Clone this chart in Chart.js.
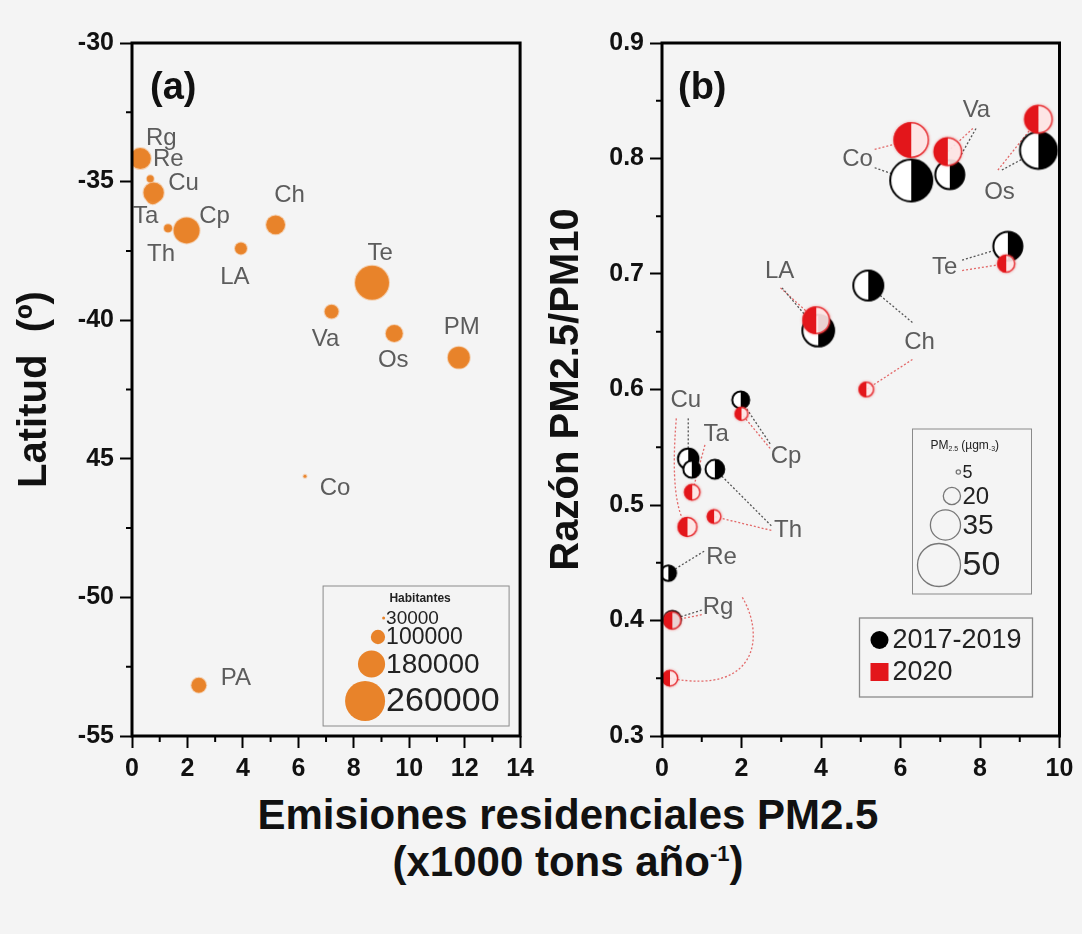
<!DOCTYPE html>
<html>
<head>
<meta charset="utf-8">
<script src="https://cdn.jsdelivr.net/npm/chart.js@4.4.1/dist/chart.umd.min.js"></script>
<style>
body{margin:0;background:#f4f4f4;width:1082px;height:934px;position:relative;overflow:hidden;font-family:"Liberation Sans",Arial,sans-serif}
#cA{position:absolute;left:0;top:0}
#cB{position:absolute;left:540px;top:0}
#xt{position:absolute;left:168px;width:800px;top:791px;text-align:center;font-weight:bold;font-size:42px;line-height:47px;color:#111;white-space:nowrap}
#xt sup{font-size:22px;line-height:0}
</style>
</head>
<body>
<canvas id="cA" width="540" height="790"></canvas>
<canvas id="cB" width="542" height="790"></canvas>
<div id="xt">Emisiones residenciales PM2.5<br>(x1000 tons año<sup>-1</sup>)</div>
<script>
// ---- panel (a): latitud vs emisiones, tamaño = habitantes
const ciudadesA = ['Rg','Ta','Cu','Re','Th','Cp','LA','Ch','Te','Va','Os','PM','Co','PA'];
const emisionesA = [0.30,0.75,0.78,0.66,1.30,1.97,3.93,5.18,8.66,7.20,9.46,11.79,6.24,2.41];
const latitudA = [-34.17,-35.6,-35.4,-34.9,-36.68,-36.76,-37.41,-36.56,-38.65,-39.69,-40.48,-41.35,-45.63,-53.17];
const habitantesA = [142000,86000,138000,55000,61000,173000,86000,129000,223000,98000,117000,148000,30000,104000];
const leyendaHab = [30000,100000,180000,260000];

// ---- panel (b): razon PM2.5/PM10, tamaño = PM2.5
const ciudadesB = ['Co','Va','Os','Te','LA','Ch','Cp','Cu','Ta','Th','Re','Rg'];
const emis1719 = [6.27,7.24,9.47,8.70,3.93,5.19,1.98,0.66,0.75,1.33,0.16,0.26];
const razon1719 = [0.781,0.786,0.807,0.724,0.651,0.690,0.591,0.540,0.531,0.531,0.441,0.401];
const pm1719 = [50,35,44,35,38,36,21,25,21,23,19,21];
const emis2020 = [6.27,7.19,9.47,8.66,3.88,5.14,2.00,0.64,0.76,1.31,0.20,0.26];
const razon2020 = [0.816,0.806,0.834,0.709,0.660,0.600,0.579,0.481,0.511,0.490,0.350,0.400];
const pm2020 = [41,33,33,21,32,18,16,23,19,17,19,21];
const leyendaPM = [5,20,35,50];

const FUENTE = '"Liberation Sans", Arial, sans-serif';
Chart.defaults.font.family = FUENTE;

const radioHab = h => 1.5 + (h - 30000) / 12430;
const radioPM = v => 0.43 * v;
const NARANJA = '#e8832a';
const ROJO = '#e3161b';

// label offsets (px) for panel a
const offA = {Rg:[21,-20],Re:[18,-19],Cu:[30,-9],Ta:[-7,18],Th:[-7,26],Cp:[28,-14],LA:[-6,29],
  Ch:[14,-29],Te:[8,-29],Va:[-6,28],Os:[-1,27],PM:[3,-30],Co:[30,12],PA:[37,-7]};

// label positions + leader lines for panel b (data units)
const anotB = [
  {t:'Co', p:[4.92,0.799], l:[[[5.35,0.808],'r',0],[[5.35,0.792],'n',0]]},
  {t:'Va', p:[7.91,0.842], l:[[[7.82,0.826],'r',1],[[7.9,0.826],'n',1]]},
  {t:'Os', p:[8.49,0.771], l:[[[8.45,0.79],'r',2],[[8.55,0.79],'n',2]]},
  {t:'Te', p:[7.11,0.706], l:[[[7.55,0.712],'n',3],[[7.55,0.703],'r',3]]},
  {t:'LA', p:[2.96,0.702], l:[[[2.98,0.688],'r',4],[[3.02,0.688],'n',4]]},
  {t:'Ch', p:[6.48,0.641], l:[[[6.3,0.658],'n',5],[[6.3,0.626],'r',5]]},
  {t:'Cu', p:[0.60,0.591], l:[[[0.66,0.575],'n',7],[[0.36,0.575],'r',7,[0.18,0.50]]]},
  {t:'Ta', p:[1.36,0.561], l:[[[1.08,0.552],'r',8]]},
  {t:'Cp', p:[3.12,0.542], l:[[[2.72,0.553],'n',6],[[2.72,0.549],'r',6]]},
  {t:'Th', p:[3.17,0.478], l:[[[2.75,0.482],'n',9],[[2.75,0.478],'r',9]]},
  {t:'Re', p:[1.50,0.455], l:[[[1.06,0.46],'n',10],[[2.02,0.42],'r',10,[2.55,0.39],[2.5,0.335]]]},
  {t:'Rg', p:[1.41,0.411], l:[[[1.0,0.409],'n',11],[[1.0,0.405],'r',11]]}
];

function marcador(r, tipo) {
  const s = 2 * Math.ceil(r + 3);
  const c = document.createElement('canvas');
  c.width = s; c.height = s;
  const g = c.getContext('2d');
  const m = s / 2;
  if (tipo === 'n') {
    g.fillStyle = '#fff';
    g.beginPath(); g.arc(m, m, r, 0, 2 * Math.PI); g.fill();
    g.fillStyle = '#000';
    g.beginPath(); g.moveTo(m, m); g.arc(m, m, r, -Math.PI / 2, Math.PI / 2); g.closePath(); g.fill();
    g.strokeStyle = '#000'; g.lineWidth = 2;
    g.beginPath(); g.arc(m, m, r - 0.5, 0, 2 * Math.PI); g.stroke();
  } else {
    g.shadowColor = 'rgba(230,30,30,0.6)'; g.shadowBlur = 3;
    g.fillStyle = 'rgba(255,244,244,0.85)';
    g.beginPath(); g.arc(m, m, r, 0, 2 * Math.PI); g.fill();
    g.shadowBlur = 0;
    g.fillStyle = ROJO;
    g.beginPath(); g.moveTo(m, m); g.arc(m, m, r, Math.PI / 2, 3 * Math.PI / 2); g.closePath(); g.fill();
    g.strokeStyle = 'rgba(227,22,27,0.85)'; g.lineWidth = 1.5;
    g.beginPath(); g.arc(m, m, r - 0.5, 0, 2 * Math.PI); g.stroke();
  }
  return c;
}

function marco(chart, mayorX, mayorY) {
  const {ctx, chartArea: ca, scales: {x, y}} = chart;
  ctx.save();
  ctx.strokeStyle = '#000';
  ctx.lineWidth = 2;
  ctx.beginPath();
  x.ticks.forEach(t => {
    if (mayorX(t.value)) return;
    const px = x.getPixelForValue(t.value);
    ctx.moveTo(px, ca.bottom); ctx.lineTo(px, ca.bottom + 6);
  });
  y.ticks.forEach(t => {
    if (mayorY(t.value)) return;
    const py = y.getPixelForValue(t.value);
    ctx.moveTo(ca.left, py); ctx.lineTo(ca.left - 6, py);
  });
  ctx.stroke();
  ctx.lineWidth = 3;
  ctx.strokeRect(ca.left, ca.top, ca.width, ca.height);
  ctx.restore();
}

function ejes(mx, my, xmin, xmax, xstep, ymin, ymax, ystep, etiquetaY, titulo, tpad, ancho) {
  const grid = maj => ({display: true, drawOnChartArea: false, drawTicks: true, tickLength: 12, tickWidth: 2,
    tickColor: c => (c.tick && maj(c.tick.value)) ? '#000' : 'rgba(0,0,0,0)'});
  return {
    x: {type: 'linear', min: xmin, max: xmax, border: {display: false}, grid: grid(mx),
      afterFit: s => { s.height = 54; },
      ticks: {stepSize: xstep, autoSkip: false, maxRotation: 0, padding: 6, color: '#111',
        font: {size: 25, weight: 'bold'}, callback: v => mx(v) ? String(Math.round(v)) : ''}},
    y: {type: 'linear', min: ymin, max: ymax, border: {display: false}, grid: grid(my),
      afterFit: s => { s.width = ancho; },
      title: {display: true, text: titulo, color: '#111', font: {size: 40, weight: 'bold'}, padding: {top: tpad, bottom: 0}},
      ticks: {stepSize: ystep, autoSkip: false, padding: 6, color: '#111',
        font: {size: 25, weight: 'bold'}, callback: v => my(v) ? etiquetaY(v) : ''}}
  };
}

// ---------- chart (a)
const mayorXa = v => Math.round(v) % 2 === 0;
const mayorYa = v => Math.abs(Math.round(v * 2)) % 10 === 0;

const pluginA = {
  id: 'extrasA',
  afterDatasetsDraw(chart) {
    const {ctx, chartArea: ca} = chart;
    const meta = chart.getDatasetMeta(0);
    ctx.save();
    ctx.font = '24px ' + FUENTE;
    ctx.fillStyle = '#5c5c5c';
    ctx.textAlign = 'center';
    ctx.textBaseline = 'middle';
    ciudadesA.forEach((c, i) => {
      const p = meta.data[i];
      const d = offA[c];
      ctx.fillText(c, p.x + d[0], p.y + d[1]);
    });
    // leyenda habitantes
    const bx = ca.right - 197, by = ca.bottom - 150;
    ctx.strokeStyle = '#8a8a8a'; ctx.lineWidth = 1;
    ctx.strokeRect(bx, by, 186, 140);
    ctx.fillStyle = '#222';
    ctx.font = 'bold 12px ' + FUENTE;
    ctx.fillText('Habitantes', bx + 97, by + 13);
    const filas = [[32, 19], [51, 23], [78, 28], [115, 34]];
    ctx.textAlign = 'left';
    leyendaHab.forEach((h, i) => {
      const r = radioHab(h);
      const cy = by + filas[i][0];
      ctx.fillStyle = NARANJA;
      ctx.beginPath(); ctx.arc(bx + 62 - r, cy, r, 0, 2 * Math.PI); ctx.fill();
      ctx.fillStyle = '#222';
      ctx.font = filas[i][1] + 'px ' + FUENTE;
      ctx.fillText(String(h), bx + 63, cy + 1);
    });
    ctx.font = 'bold 38px ' + FUENTE;
    ctx.fillStyle = '#111';
    ctx.fillText('(a)', ca.left + 18, ca.top + 46);
    ctx.restore();
  },
  afterDraw(chart) { marco(chart, mayorXa, mayorYa); }
};

new Chart(document.getElementById('cA'), {
  type: 'scatter',
  data: {
    datasets: [{
      label: 'Habitantes',
      data: emisionesA.map((x, i) => ({x: x, y: latitudA[i]})),
      backgroundColor: NARANJA,
      borderColor: 'rgba(240,150,70,0.35)',
      borderWidth: 2,
      pointRadius: habitantesA.map(radioHab),
      pointHoverRadius: habitantesA.map(radioHab)
    }]
  },
  options: {
    responsive: false, animation: false, devicePixelRatio: 1, events: [],
    layout: {padding: {top: 43, right: 12, left: 0, bottom: 0}},
    plugins: {legend: {display: false}, tooltip: {enabled: false}},
    scales: ejes(mayorXa, mayorYa, 0, 14, 1, -55, -30, 2.5,
      v => Math.round(v) === -45 ? '45' : String(Math.round(v)), 'Latitud  (º)', 11, 132)
  },
  plugins: [pluginA]
});

// ---------- chart (b)
const mayorXb = v => Math.round(v) % 2 === 0;
const mayorYb = v => Math.round(v * 20) % 2 === 0;

const pluginB = {
  id: 'extrasB',
  beforeDatasetsDraw(chart) {
    const {ctx, scales: {x, y}} = chart;
    const metaR = chart.getDatasetMeta(0), metaN = chart.getDatasetMeta(1);
    ctx.save();
    ctx.lineWidth = 1.3;
    ctx.setLineDash([2, 2]);
    anotB.forEach(a => {
      a.l.forEach(l => {
        const p = (l[1] === 'r' ? metaR : metaN).data[l[2]];
        ctx.strokeStyle = l[1] === 'r' ? 'rgba(225,90,90,0.9)' : '#555';
        ctx.beginPath();
        ctx.moveTo(x.getPixelForValue(l[0][0]), y.getPixelForValue(l[0][1]));
        if (l[4]) {
          ctx.bezierCurveTo(x.getPixelForValue(l[3][0]), y.getPixelForValue(l[3][1]),
            x.getPixelForValue(l[4][0]), y.getPixelForValue(l[4][1]), p.x, p.y);
        } else if (l[3]) {
          ctx.quadraticCurveTo(x.getPixelForValue(l[3][0]), y.getPixelForValue(l[3][1]), p.x, p.y);
        } else {
          ctx.lineTo(p.x, p.y);
        }
        ctx.stroke();
      });
    });
    ctx.restore();
  },
  afterDatasetsDraw(chart) {
    const {ctx, chartArea: ca, scales: {x, y}} = chart;
    ctx.save();
    ctx.font = '24px ' + FUENTE;
    ctx.fillStyle = '#5c5c5c';
    ctx.textAlign = 'center';
    ctx.textBaseline = 'middle';
    anotB.forEach(a => ctx.fillText(a.t, x.getPixelForValue(a.p[0]), y.getPixelForValue(a.p[1])));
    // leyenda PM2.5
    const bx = ca.right - 147, by = 429;
    ctx.strokeStyle = '#8a8a8a'; ctx.lineWidth = 1;
    ctx.strokeRect(bx, by, 119, 165);
    ctx.fillStyle = '#222';
    ctx.textAlign = 'left';
    ctx.font = '12px ' + FUENTE;
    let tx = bx + 18;
    ctx.fillText('PM', tx, by + 17); tx += ctx.measureText('PM').width;
    ctx.font = '7px ' + FUENTE; ctx.fillText('2.5', tx, by + 20); tx += ctx.measureText('2.5').width + 3;
    ctx.font = '12px ' + FUENTE; ctx.fillText('(µgm', tx, by + 17); tx += ctx.measureText('(µgm').width;
    ctx.font = '7px ' + FUENTE; ctx.fillText('-3', tx, by + 20); tx += ctx.measureText('-3').width;
    ctx.font = '12px ' + FUENTE; ctx.fillText(')', tx, by + 17);
    const filas = [[43, 18], [67, 24], [96, 28], [136, 34]];
    leyendaPM.forEach((v, i) => {
      const r = radioPM(v);
      const cy = by + filas[i][0];
      ctx.strokeStyle = '#777'; ctx.lineWidth = 1.3;
      ctx.beginPath(); ctx.arc(bx + 48 - r, cy, r, 0, 2 * Math.PI); ctx.stroke();
      ctx.fillStyle = '#222';
      ctx.font = filas[i][1] + 'px ' + FUENTE;
      ctx.fillText(String(v), bx + 50, cy + 1);
    });
    // leyenda series
    const sx = ca.right - 200, sy = 618;
    ctx.strokeStyle = '#8a8a8a';
    ctx.strokeRect(sx, sy, 173, 79);
    ctx.fillStyle = '#000';
    ctx.beginPath(); ctx.arc(sx + 20, sy + 22, 9, 0, 2 * Math.PI); ctx.fill();
    ctx.fillStyle = ROJO;
    ctx.fillRect(sx + 11, sy + 45, 18, 18);
    ctx.fillStyle = '#222';
    ctx.font = '27px ' + FUENTE;
    ctx.fillText('2017-2019', sx + 33, sy + 23);
    ctx.fillText('2020', sx + 33, sy + 55);
    ctx.font = 'bold 38px ' + FUENTE;
    ctx.fillStyle = '#111';
    ctx.fillText('(b)', ca.left + 16, ca.top + 46);
    ctx.restore();
  },
  afterDraw(chart) { marco(chart, mayorXb, mayorYb); }
};

new Chart(document.getElementById('cB'), {
  type: 'scatter',
  data: {
    datasets: [{
      label: '2020',
      data: emis2020.map((x, i) => ({x: x, y: razon2020[i]})),
      pointStyle: pm2020.map(v => marcador(radioPM(v), 'r')),
      pointRadius: pm2020.map(radioPM)
    }, {
      label: '2017-2019',
      data: emis1719.map((x, i) => ({x: x, y: razon1719[i]})),
      pointStyle: pm1719.map(v => marcador(radioPM(v), 'n')),
      pointRadius: pm1719.map(radioPM)
    }]
  },
  options: {
    responsive: false, animation: false, devicePixelRatio: 1, events: [],
    layout: {padding: {top: 43, right: 22, left: 0, bottom: 0}},
    plugins: {legend: {display: false}, tooltip: {enabled: false}},
    scales: ejes(mayorXb, mayorYb, 0, 10, 1, 0.3, 0.9, 0.05,
      v => v.toFixed(1), 'Razón PM2.5/PM10', 3, 122)
  },
  plugins: [pluginB]
});
</script>
</body>
</html>
